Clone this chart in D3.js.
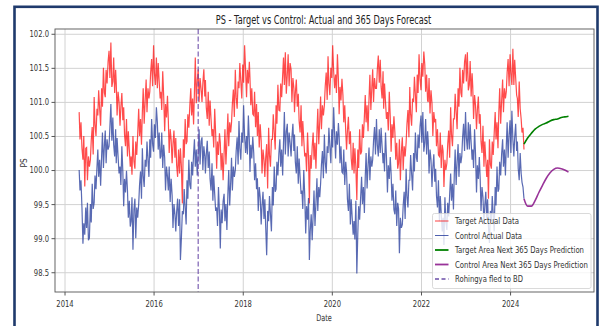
<!DOCTYPE html>
<html>
<head>
<meta charset="utf-8">
<script src="https://cdn.jsdelivr.net/npm/d3@7"></script>
<style>
  html, body { margin: 0; padding: 0; background: #fff; }
  svg { display: block; font-family: "DejaVu Sans", sans-serif; }
</style>
</head>
<body>
<svg id="chart" width="600" height="326"></svg>
<script>
// readings on the 1st, 8th, 16th and 24th of each month, one row per May..Apr cycle (May 2014 - Apr 2024)
const targetActual = [
  100.85,100.45,100.70,100.32, 100.15,100.50,99.76,100.32, 100.33,99.85,100.20,100.05, 100.15,100.43,100.63,100.23, 101.07,100.67,100.50,100.90, 100.80,101.17,100.90,100.65, 101.20,100.93,101.50,101.13, 101.07,101.47,101.27,101.59, 101.75,101.35,101.87,101.22, 101.30,101.65,101.13,101.47, 101.28,100.80,101.15,101.00, 100.65,100.93,101.13,100.73,
  100.92,100.52,100.35,100.75, 100.20,100.57,100.30,100.05, 100.20,99.93,100.50,100.13, 100.02,100.42,100.22,100.54, 100.90,100.50,100.75,100.37, 100.85,101.20,100.68,101.02, 101.33,100.85,101.20,101.05, 101.15,101.43,101.63,101.23, 101.83,101.42,101.25,101.65, 101.20,101.57,101.30,101.05, 101.15,100.88,101.45,101.08, 100.57,100.97,100.77,101.09,
  100.73,100.25,100.60,100.45, 100.10,100.38,100.58,100.18, 100.47,100.07,99.90,100.30, 99.95,100.32,100.05,99.51, 100.45,100.18,100.75,100.38, 100.42,100.82,100.62,100.94, 101.20,100.80,101.05,100.67, 101.15,101.65,100.98,101.32, 101.48,101.00,101.35,101.20, 101.00,101.28,101.48,101.08, 101.32,100.92,100.75,101.15, 100.65,101.02,100.75,100.50,
  100.60,100.33,100.90,100.53, 100.02,100.42,100.22,100.54, 100.40,100.00,100.25,99.85, 100.25,100.60,100.08,100.42, 100.83,100.35,100.70,100.55, 100.70,100.98,101.18,100.78, 101.47,101.07,100.90,101.30, 101.20,101.57,101.30,101.05, 101.55,101.28,101.83,101.48, 101.07,101.47,101.27,101.59, 101.35,100.95,101.20,100.82, 100.80,101.15,100.63,100.97,
  100.50,100.85,100.33,100.67, 100.43,99.95,100.30,100.15, 99.90,100.18,100.38,99.73, 100.62,100.22,100.05,100.45, 100.45,100.82,100.55,100.30, 100.95,100.68,101.25,100.88, 100.87,101.27,101.07,101.39, 101.65,101.25,101.73,101.12, 101.40,101.70,101.23,101.57, 101.48,101.00,101.35,101.20, 100.85,101.13,101.33,100.93, 101.12,100.72,100.55,100.95,
  100.35,100.72,100.45,100.20, 100.25,99.98,100.55,100.18, 99.51,100.22,100.02,100.34, 100.55,100.15,100.40,100.02, 100.55,100.90,100.38,100.72, 101.08,100.60,100.95,100.80, 100.95,101.23,101.43,101.03, 101.67,101.27,101.10,101.50, 101.35,101.83,101.45,101.20, 101.40,101.13,101.70,101.33, 100.82,101.22,101.02,101.34, 101.10,100.70,100.95,100.57,
  100.30,100.58,100.78,100.38, 100.57,100.17,100.00,100.40, 99.95,100.32,100.05,99.56, 100.30,100.03,100.60,100.23, 100.27,100.67,100.47,100.79, 101.10,100.70,100.95,100.57, 101.05,101.40,100.88,101.22, 101.48,101.00,101.35,101.20, 101.20,101.48,101.68,101.28, 101.62,101.22,101.05,101.45, 100.90,101.27,101.00,100.75, 100.85,100.58,101.15,100.78,
  100.27,100.67,100.47,100.79, 100.55,100.15,100.40,100.02, 100.10,100.45,99.85,100.27, 100.48,100.00,100.35,100.20, 100.40,100.68,100.88,100.48, 101.22,100.82,100.65,101.05, 101.00,101.37,101.10,100.85, 101.40,101.13,101.70,101.33, 101.17,101.57,101.37,101.74, 101.55,101.15,101.40,101.02, 101.00,101.35,100.83,101.17, 100.98,100.50,100.85,100.70,
  100.75,100.35,100.60,100.22, 100.20,100.55,100.03,100.37, 100.28,99.75,100.15,100.00, 100.10,100.38,100.58,100.18, 100.92,100.52,100.35,100.75, 100.75,101.12,100.85,100.60, 101.20,100.93,101.50,101.13, 101.07,101.47,101.27,101.59, 101.70,101.30,101.73,101.17, 101.25,101.60,101.08,101.42, 101.23,100.75,101.10,100.95, 100.60,100.88,101.08,100.68,
  100.82,100.42,100.25,100.65, 100.05,100.42,100.15,99.90, 100.15,99.58,100.45,100.08, 100.02,100.42,100.22,100.54, 100.85,100.45,100.70,100.32, 100.85,101.20,100.68,101.02, 101.33,100.85,101.20,101.05, 101.15,101.43,101.63,101.23, 101.70,101.42,101.25,101.78, 101.25,101.62,101.35,101.10, 101.05,100.78,101.30,100.90, 100.75,100.55,100.62,100.30
];
const controlActual = [
  100.00,99.70,99.85,99.45, 98.92,99.22,99.05,99.45, 99.15,99.52,98.97,99.00, 99.50,99.23,99.80,99.43, 99.52,99.92,99.72,100.04, 100.30,99.90,100.15,99.77, 100.20,100.55,100.03,100.37, 100.58,100.10,100.45,100.30, 100.35,100.63,100.97,100.43, 100.77,100.37,100.20,100.60, 100.10,100.47,100.20,99.95, 100.05,99.78,100.35,99.98,
  99.47,99.87,99.67,99.99, 99.70,99.30,99.55,99.17, 99.25,99.60,98.83,99.42, 99.58,99.00,99.45,99.30, 99.50,99.78,99.98,99.58, 100.32,99.92,99.75,100.15, 100.05,100.42,100.15,99.90, 100.45,100.18,100.75,100.38, 100.27,100.67,100.47,100.92, 100.70,100.30,100.55,100.17, 100.20,100.55,100.03,100.37, 100.18,99.70,100.05,99.90,
  99.70,100.05,99.53,99.87, 99.63,99.15,99.50,99.35, 99.10,99.38,99.58,99.18, 99.57,98.68,99.00,99.40, 99.35,99.72,99.45,99.20, 99.85,99.58,100.15,99.78, 99.72,100.12,99.92,100.24, 100.45,100.05,100.30,99.92, 100.25,100.60,100.08,100.42, 100.48,100.00,100.35,100.20, 99.95,100.23,100.43,100.03, 100.27,99.87,99.70,100.10,
  99.55,99.92,99.65,99.40, 99.45,99.18,99.75,99.38, 98.85,99.42,99.22,99.54, 99.65,99.25,99.50,99.12, 99.65,100.00,99.48,99.82, 100.18,99.70,100.05,99.90, 100.00,100.28,100.48,100.08, 100.72,100.32,100.15,100.55, 100.40,100.95,100.50,100.25, 100.50,100.23,100.80,100.43, 99.97,100.37,100.17,100.49, 100.25,99.85,100.10,99.72,
  99.88,99.40,99.75,99.60, 99.20,99.48,99.68,99.28, 99.57,99.17,98.75,99.40, 99.25,99.62,99.35,99.10, 99.75,99.48,100.05,99.68, 99.72,100.12,99.92,100.24, 100.45,100.05,100.30,99.92, 100.40,100.85,100.23,100.57, 100.68,100.20,100.55,100.40, 100.20,100.48,100.68,100.28, 100.52,100.12,99.95,100.35, 99.80,100.17,99.90,99.65,
  99.70,99.43,100.00,99.63, 99.07,99.47,99.27,99.59, 98.68,99.10,99.35,98.97, 99.35,99.70,99.18,99.52, 99.88,99.40,99.75,99.60, 99.80,100.08,100.28,99.88, 100.52,100.12,99.95,100.35, 100.25,100.62,100.35,100.10, 100.60,100.33,100.92,100.53, 100.17,100.57,100.37,100.69, 100.50,100.10,100.35,99.97, 99.95,100.30,99.78,100.12,
  99.97,99.57,99.40,99.80, 99.20,99.57,99.30,99.05, 99.25,98.98,99.55,98.48, 99.07,99.47,99.27,99.59, 99.90,99.50,99.75,99.37, 99.90,100.25,99.73,100.07, 100.33,99.85,100.20,100.05, 100.15,100.43,100.63,100.23, 100.75,100.37,100.20,100.60, 100.25,100.62,100.35,100.10, 100.25,99.98,100.55,100.18, 99.67,100.07,99.87,100.19,
  99.95,99.55,99.80,99.42, 99.35,99.70,99.18,99.52, 99.43,98.78,99.30,99.15, 99.20,99.48,99.68,99.28, 100.02,99.62,99.45,99.85, 99.85,100.22,99.95,99.70, 100.25,99.98,100.55,100.18, 100.12,100.52,100.32,100.64, 100.80,100.40,100.85,100.27, 100.40,100.75,100.23,100.57, 100.43,99.95,100.30,100.15, 99.75,100.03,100.23,99.83,
  100.02,99.62,99.45,99.85, 99.25,99.62,99.35,99.10, 99.30,98.90,99.60,99.23, 99.12,99.52,99.32,99.64, 99.95,99.55,99.80,99.42, 99.95,100.30,99.78,100.12, 100.38,99.90,100.25,100.10, 100.20,100.48,100.68,100.28, 100.85,100.47,100.30,100.70, 100.30,100.67,100.40,100.15, 100.30,100.03,100.60,100.23, 99.67,100.07,99.87,100.19,
  99.88,99.40,99.75,99.60, 99.20,99.48,99.68,99.28, 99.57,99.17,98.93,99.40, 99.25,99.62,99.35,99.10, 99.75,99.48,100.05,99.68, 99.72,100.12,99.92,100.24, 100.45,100.05,100.30,99.92, 100.35,100.70,100.18,100.52, 100.73,100.25,100.87,100.45, 100.20,100.48,100.68,100.28, 100.42,100.02,99.85,100.25, 99.95,99.82,99.75,99.58
];
// monthly forecast points, 24 Apr 2024 .. 24 Apr 2025
const targetForecast = [100.38,100.47,100.54,100.60,100.64,100.67,100.69,100.72,100.74,100.75,100.77,100.78,100.79];
const controlForecast = [99.58,99.47,99.47,99.55,99.67,99.78,99.88,99.96,100.01,100.03,100.02,100.00,99.97];

const yTicks = [98.5, 99.0, 99.5, 100.0, 100.5, 101.0, 101.5, 102.0];
const xTickYears = [2014, 2016, 2018, 2020, 2022, 2024];
const eventDate = new Date(2017, 0, 1);
const legendItems = [
  {label: "Target Actual Data", color: "red", width: 1, dash: null, op: 0.75, w: 64},
  {label: "Control Actual Data", color: "#22389a", width: 1, dash: null, op: 0.8, w: 67},
  {label: "Target Area Next 365 Days Prediction", color: "green", width: 1.8, dash: null, op: 1, w: 129},
  {label: "Control Area Next 365 Days Prediction", color: "purple", width: 1.8, dash: null, op: 0.8, w: 133},
  {label: "Rohingya fled to BD", color: "#5a3a9e", width: 1.5, dash: "4,2.5", op: 0.9, w: 68}
];

const svg = d3.select("#chart");
const pL = 55, pR = 594, pT = 29, pB = 292;

const actualDates = targetActual.map((v, i) => new Date(2014, 4 + Math.floor(i / 4), [1, 8, 16, 24][i % 4]));
const forecastDates = targetForecast.map((v, i) => new Date(2024, 3 + i, 24));

const x = d3.scaleTime()
  .domain([new Date(2013, 9, 15), new Date(2025, 10, 19)])
  .range([pL, pR]);
const y = d3.scaleLinear()
  .domain([98.21, 102.07])
  .range([pB, pT]);

// narrow a text horizontally to a given width (the reference figure is squeezed sideways)
function fit(sel, width, tx, ty) {
  const w = sel.node().getComputedTextLength();
  sel.attr("x", 0).attr("y", 0)
    .attr("transform", `translate(${tx},${ty}) scale(${width / w},1)`);
  return sel;
}
function squeezeTicks(sel, k) {
  sel.each(function() {
    const t = d3.select(this);
    const x0 = +t.attr("x") || 0;
    t.attr("x", x0 / k).attr("transform", `scale(${k},1)`);
  });
}

// outer frame
svg.append("rect")
  .attr("x", 14.5).attr("y", 6.8).attr("width", 583).attr("height", 340)
  .attr("fill", "none").attr("stroke", "#1f3a6c").attr("stroke-width", 2.6);

// title
fit(svg.append("text")
  .attr("text-anchor", "middle")
  .attr("font-size", 12).attr("fill", "#222")
  .text("PS - Target vs Control: Actual and 365 Days Forecast"), 216, 323.5, 24);

const xTickDates = xTickYears.map(yr => new Date(yr, 0, 1));

// grid
svg.append("g")
  .attr("transform", `translate(0,${pB})`)
  .call(d3.axisBottom(x).tickValues(xTickDates).tickSize(-(pB - pT)).tickFormat(""))
  .call(g => g.select(".domain").remove())
  .selectAll("line").attr("stroke", "#d2d2d2").attr("stroke-width", 1);
svg.append("g")
  .attr("transform", `translate(${pL},0)`)
  .call(d3.axisLeft(y).tickValues(yTicks).tickSize(-(pR - pL)).tickFormat(""))
  .call(g => g.select(".domain").remove())
  .selectAll("line").attr("stroke", "#d2d2d2").attr("stroke-width", 1);

const line = d3.line().x(d => x(d.date)).y(d => y(d.value));

const targetData = actualDates.map((d, i) => ({date: d, value: targetActual[i]}));
const controlData = actualDates.map((d, i) => ({date: d, value: controlActual[i]}));
const targetFc = forecastDates.map((d, i) => ({date: d, value: targetForecast[i]}));
const controlFc = forecastDates.map((d, i) => ({date: d, value: controlForecast[i]}));

svg.append("path").datum(targetData)
  .attr("d", line).attr("fill", "none")
  .attr("stroke", "red").attr("stroke-opacity", 0.7).attr("stroke-width", 1.2);
svg.append("path").datum(controlData)
  .attr("d", line).attr("fill", "none")
  .attr("stroke", "#22389a").attr("stroke-opacity", 0.75).attr("stroke-width", 1.2);

const smooth = d3.line().x(d => x(d.date)).y(d => y(d.value)).curve(d3.curveMonotoneX);
svg.append("path").datum(targetFc)
  .attr("d", smooth).attr("fill", "none")
  .attr("stroke", "green").attr("stroke-width", 1.6);
svg.append("path").datum(controlFc)
  .attr("d", smooth).attr("fill", "none")
  .attr("stroke", "purple").attr("stroke-opacity", 0.8).attr("stroke-width", 1.6);

// event marker
svg.append("line")
  .attr("x1", x(eventDate)).attr("x2", x(eventDate))
  .attr("y1", pT).attr("y2", pB)
  .attr("stroke", "#6a4aa8").attr("stroke-opacity", 0.7)
  .attr("stroke-width", 1.5).attr("stroke-dasharray", "5,2.5");

// spines
svg.append("rect")
  .attr("x", pL).attr("y", pT).attr("width", pR - pL).attr("height", pB - pT)
  .attr("fill", "none").attr("stroke", "#555").attr("stroke-width", 0.9);

// axes
const yAxis = svg.append("g")
  .attr("transform", `translate(${pL},0)`)
  .call(d3.axisLeft(y).tickValues(yTicks).tickFormat(d3.format(".1f")).tickSize(3.5).tickPadding(2.5))
  .call(g => g.select(".domain").remove());
yAxis.selectAll("line").attr("stroke", "#555");
yAxis.selectAll("text").attr("font-size", 9.2).attr("fill", "#333").attr("font-family", "DejaVu Sans").call(squeezeTicks, 0.74);

const xAxis = svg.append("g")
  .attr("transform", `translate(0,${pB})`)
  .call(d3.axisBottom(x).tickValues(xTickDates).tickFormat(d3.timeFormat("%Y")).tickSize(3.5).tickPadding(4.5))
  .call(g => g.select(".domain").remove());
xAxis.selectAll("line").attr("stroke", "#555");
xAxis.selectAll("text").attr("font-size", 9.2).attr("fill", "#333").attr("font-family", "DejaVu Sans").call(squeezeTicks, 0.74);

// axis labels
fit(svg.append("text")
  .attr("text-anchor", "middle").attr("font-size", 9.2).attr("fill", "#333")
  .text("Date"), 15.7, 324, 320.5);
svg.append("text")
  .attr("transform", "translate(26.5,163) rotate(-90) scale(0.8,1)")
  .attr("text-anchor", "middle").attr("font-size", 9.2).attr("fill", "#333")
  .text("PS");

// legend
const legend = svg.append("g");
legend.append("rect")
  .attr("x", 432.5).attr("y", 213.5).attr("width", 158.5).attr("height", 75)
  .attr("rx", 2).attr("fill", "#fff").attr("fill-opacity", 0.8)
  .attr("stroke", "#d0d0d0").attr("stroke-width", 0.8);
legendItems.forEach((it, i) => {
  const yc = 221 + i * 14.5;
  legend.append("line")
    .attr("x1", 435).attr("x2", 448.5).attr("y1", yc).attr("y2", yc)
    .attr("stroke", it.color).attr("stroke-width", it.width)
    .attr("stroke-opacity", it.op)
    .attr("stroke-dasharray", it.dash);
  fit(legend.append("text")
    .attr("font-size", 9.2).attr("fill", "#333")
    .text(it.label), it.w, 455, yc + 3.3);
});
</script>
</body>
</html>
